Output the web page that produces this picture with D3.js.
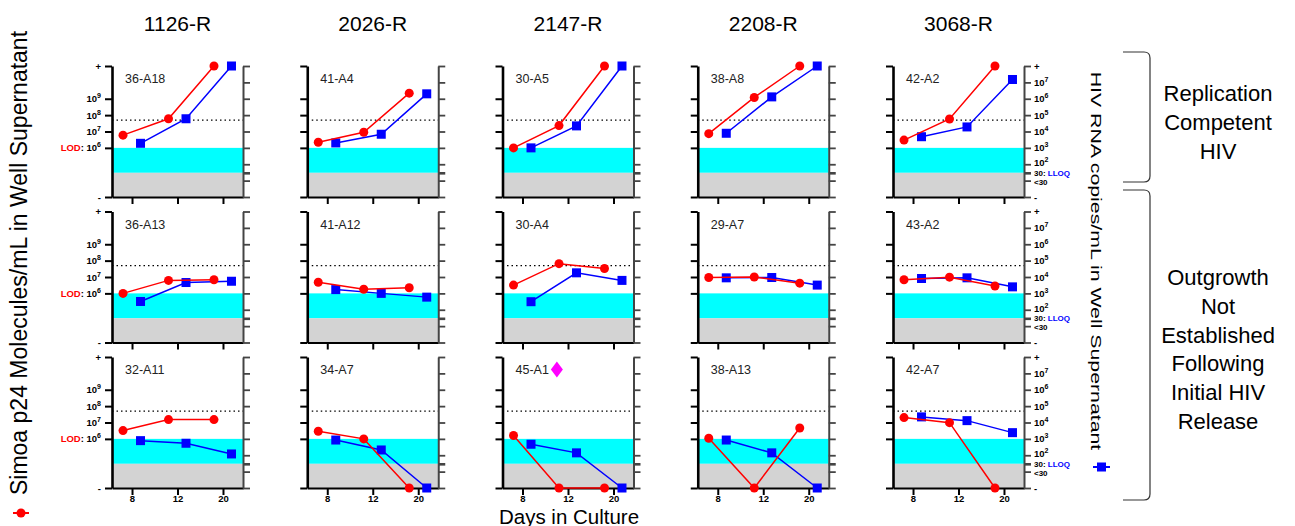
<!DOCTYPE html>
<html>
<head>
<meta charset="utf-8">
<script src="https://cdn.jsdelivr.net/npm/d3@7"></script>
<style>
body { margin: 0; background: #fff; }
svg { font-family: "Liberation Sans", Arial, sans-serif; }
</style>
</head>
<body>
<svg id="chart" width="1295" height="526"></svg>
<script>
// donors (columns) and wells (rows)
var donors = ["1126-R", "2026-R", "2147-R", "2208-R", "3068-R"];
var wells = [
	["36-A18", "41-A4", "30-A5", "38-A8", "42-A2"],
	["36-A13", "41-A12", "30-A4", "29-A7", "43-A2"],
	["32-A11", "34-A7", "45-A1", "38-A13", "42-A7"]
];
var days = ["8", "12", "20"];

// Simoa p24 molecules/mL, "+" = above range, "-" = not detected
var p24 = [
	[[6e6, 6e7, "+"], [2.2e6, 9e6, 2.2e9], [1e6, 2.3e7, "+"], [7.4e6, 1.2e9, "+"], [3e6, 5.8e7, "+"]],
	[[1e6, 6.2e6, 6.8e6], [4.8e6, 1.8e6, 2.2e6], [3.2e6, 6.5e7, 3.3e7], [9.3e6, 1e7, 4.2e6], [6.8e6, 9.8e6, 2.8e6]],
	[[3.2e6, 1.5e7, 1.5e7], [2.9e6, 1e6, "-"], [1.6e6, "-", "-"], [1.1e6, "-", 4.6e6], [2e7, 9.8e6, "-"]]
];
// HIV RNA copies/mL
var rna = [
	[[1.9e3, 6e4, "+"], [2e3, 6.8e3, 2e6], [1e3, 2.2e4, "+"], [7.8e3, 1.3e6, "+"], [4.8e3, 1.9e4, 1.5e7]],
	[[3.2e2, 4.6e3, 5.5e3], [1.7e3, 1e3, 5.9e2], [3.1e2, 1.8e4, 6.2e3], [8.9e3, 9.3e3, 3.2e3], [8.1e3, 8.9e3, 2.5e3]],
	[[7.8e2, 5.4e2, 1.2e2], [8.5e2, 2.1e2, "-"], [4.7e2, 1.4e2, "-"], [8.5e2, 1.4e2, "-"], [2.2e4, 1.3e4, 2.4e3]]
];

var p24Ticks = [1e3, 1e6, 1e7, 1e8, 1e9, 1e11];
var rnaTicks = [1, 10, 30, 1e2, 1e3, 1e4, 1e5, 1e6, 1e7, 1e8];
var LOD = 1e6, LLOQ = 30, cutoff = 5e4;
var flagged = "45-A1";

var groups = [
	{ lines: ["Replication", "Competent", "HIV"], top: 52, bottom: 182, mid: 122 },
	{ lines: ["Outgrowth", "Not", "Established", "Following", "Initial HIV", "Release"], top: 190, bottom: 500, mid: 349 }
];

var svg = d3.select("#chart");
var W = 131, H = 131, x0 = 112, y0 = 66, colStep = 195.25, rowStep = 145.5;

var yL = d3.scaleLog().domain([1e3, 1e11]).range([H, 0]);
var yR = d3.scaleLog().domain([1, 1e8]).range([H, 0]);
var x = d3.scalePoint().domain(days).range([0, W]).padding(0.44);

function val(s, v) {
	if (v === "+") return s.domain()[1];
	if (v === "-") return s.domain()[0];
	return v;
}

// write 10^k style labels with tspans
function powLabel(sel, d, pre, preColor, top, bottom) {
	sel.text("");
	if (d === top) { sel.text("+"); return; }
	if (d === bottom) { sel.text("-"); return; }
	if (pre) {
		sel.append("tspan").attr("fill", preColor).text(pre);
		sel.append("tspan").attr("fill", "#000").text(": ");
	}
	var k = Math.round(Math.log10(d));
	sel.append("tspan").text("10");
	sel.append("tspan").attr("dy", -4).attr("font-size", 7).text(k);
}

// column titles
svg.selectAll(".donor").data(donors).enter().append("text")
	.attr("x", function(d, i) { return x0 + i * colStep + W / 2; })
	.attr("y", 31)
	.attr("text-anchor", "middle")
	.attr("font-size", 21)
	.text(function(d) { return d; });

var line = d3.line();

wells.forEach(function(row, r) {
	row.forEach(function(well, c) {
		var g = svg.append("g")
			.attr("transform", "translate(" + (x0 + c * colStep) + "," + (y0 + r * rowStep) + ")");

		// LOD / LLOQ bands
		g.append("rect").attr("x", 0).attr("width", W)
			.attr("y", yL(LOD)).attr("height", yR(LLOQ) - yL(LOD))
			.attr("fill", "#00ffff");
		g.append("rect").attr("x", 0).attr("width", W)
			.attr("y", yR(LLOQ)).attr("height", H - yR(LLOQ))
			.attr("fill", "#d3d3d3");

		// dotted cutoff
		g.append("line").attr("x1", 0).attr("x2", W)
			.attr("y1", yR(cutoff)).attr("y2", yR(cutoff))
			.attr("stroke", "#000").attr("stroke-width", 1.3)
			.attr("stroke-dasharray", "1.5,3");

		// x axis
		var xa = g.append("g").attr("transform", "translate(0," + H + ")")
			.call(d3.axisBottom(x).tickSize(7).tickSizeOuter(0)
				.tickFormat(r === 2 ? function(d) { return d; } : ""));
		xa.select(".domain").attr("stroke-width", 2.2);
		xa.selectAll(".tick line").attr("stroke-width", 2);
		xa.selectAll(".tick text").attr("font-size", 9.5).attr("font-weight", "bold")
			.attr("font-family", "Liberation Sans, Arial, sans-serif").attr("dy", "0.45em");

		// right axis (RNA)
		var ra = g.append("g").attr("transform", "translate(" + W + ",0)")
			.call(d3.axisRight(yR).tickValues(rnaTicks).tickSize(7).tickSizeOuter(0).tickFormat(""));
		ra.select(".domain").attr("stroke", "#444").attr("stroke-width", 2);
		ra.selectAll(".tick line").attr("stroke", "#444")
			.attr("stroke-width", function(d) { return d === LLOQ ? 2.6 : 1.8; });
		if (c === donors.length - 1) {
			ra.selectAll(".tick text")
				.attr("font-size", 9.5).attr("font-weight", "bold").attr("fill", "#000")
				.attr("font-family", "Liberation Sans, Arial, sans-serif")
				.attr("x", 10)
				.each(function(d) {
					var t = d3.select(this);
					if (d === LLOQ) {
						t.text("").attr("font-size", 8).attr("dy", "0.32em");
						t.append("tspan").text("30: ");
						t.append("tspan").attr("fill", "#0000ff").text("LLOQ");
					} else if (d === 10) {
						t.text("<30").attr("font-size", 8).attr("dy", "0.42em");
					} else {
						powLabel(t, d, null, null, 1e8, 1);
						if (d === 100) t.attr("dy", "0.16em");
					}
				});
		}

		// left axis (p24)
		var la = g.append("g")
			.call(d3.axisLeft(yL).tickValues(p24Ticks).tickSize(7).tickSizeOuter(0).tickFormat(""));
		la.select(".domain").attr("stroke-width", 2.6);
		la.selectAll(".tick line").attr("stroke-width", 2);
		if (c === 0) {
			la.selectAll(".tick text")
				.attr("font-size", 9.5).attr("font-weight", "bold").attr("fill", "#000")
				.attr("font-family", "Liberation Sans, Arial, sans-serif")
				.attr("x", -11)
				.each(function(d) {
					powLabel(d3.select(this), d, d === LOD ? "LOD" : null, "#ff0000", 1e11, 1e3);
				});
		}

		// HIV RNA series
		var bPts = rna[r][c].map(function(v, i) { return [x(days[i]) + 8.5, yR(val(yR, v))]; });
		g.append("path").attr("d", line(bPts)).attr("fill", "none")
			.attr("stroke", "#0000ff").attr("stroke-width", 1.5);
		g.selectAll(".sq").data(bPts).enter().append("rect")
			.attr("x", function(d) { return d[0] - 4.5; })
			.attr("y", function(d) { return d[1] - 4.5; })
			.attr("width", 9).attr("height", 9)
			.attr("fill", "#0000ff");

		// p24 series
		var rPts = p24[r][c].map(function(v, i) { return [x(days[i]) - 9, yL(val(yL, v))]; });
		g.append("path").attr("d", line(rPts)).attr("fill", "none")
			.attr("stroke", "#ff0000").attr("stroke-width", 1.5);
		g.selectAll(".dot").data(rPts).enter().append("circle")
			.attr("cx", function(d) { return d[0]; })
			.attr("cy", function(d) { return d[1]; })
			.attr("r", 4.5).attr("fill", "#ff0000");

		// well label
		var lab = g.append("text").attr("x", 13).attr("y", 17)
			.attr("font-size", 12.5).attr("fill", "#222").text(well);
		if (well === flagged) {
			var bw = lab.node().getComputedTextLength();
			g.append("path")
				.attr("d", "M0,-8L6,0L0,8L-6,0Z")
				.attr("transform", "translate(" + (13 + bw + 8) + ",12.5)")
				.attr("fill", "#ff00ff");
		}
	});
});

// left axis title + legend
svg.append("text")
	.attr("transform", "translate(27,263) rotate(-90)")
	.attr("text-anchor", "middle").attr("font-size", 23)
	.text("Simoa p24 Molecules/mL in Well Supernatant");
svg.append("line").attr("x1", 13).attr("x2", 29).attr("y1", 513).attr("y2", 513)
	.attr("stroke", "#ff0000").attr("stroke-width", 2);
svg.append("circle").attr("cx", 21).attr("cy", 513).attr("r", 4.5).attr("fill", "#ff0000");

// right axis title + legend (drawn narrow, as in the source figure)
svg.append("text")
	.attr("transform", "translate(1091,261) rotate(90) scale(1.42,1)")
	.attr("text-anchor", "middle").attr("font-size", 15)
	.text("HIV RNA copies/mL in Well Supernatant");
svg.append("line").attr("x1", 1093).attr("x2", 1110).attr("y1", 467).attr("y2", 467)
	.attr("stroke", "#0000ff").attr("stroke-width", 2);
svg.append("rect").attr("x", 1097).attr("y", 462.5).attr("width", 9).attr("height", 9).attr("fill", "#0000ff");

// x title
svg.append("text").attr("x", 569).attr("y", 523.5)
	.attr("text-anchor", "middle").attr("font-size", 20.5)
	.text("Days in Culture");

// brackets and group labels
groups.forEach(function(gr) {
	var xl = 1123, xr = 1150, rad = 6;
	var p = d3.path();
	p.moveTo(xl, gr.top);
	p.lineTo(xr - rad, gr.top);
	p.quadraticCurveTo(xr, gr.top, xr, gr.top + rad);
	p.lineTo(xr, gr.bottom - rad);
	p.quadraticCurveTo(xr, gr.bottom, xr - rad, gr.bottom);
	p.lineTo(xl, gr.bottom);
	svg.append("path").attr("d", p.toString()).attr("fill", "none")
		.attr("stroke", "#333").attr("stroke-width", 1.2);

	var lh = 28.8;
	var start = gr.mid - (gr.lines.length - 1) * lh / 2 + 8;
	svg.append("g").selectAll("text").data(gr.lines).enter().append("text")
		.attr("x", 1218)
		.attr("y", function(d, i) { return start + i * lh; })
		.attr("text-anchor", "middle").attr("font-size", 22)
		.text(function(d) { return d; });
});
</script>
</body>
</html>
